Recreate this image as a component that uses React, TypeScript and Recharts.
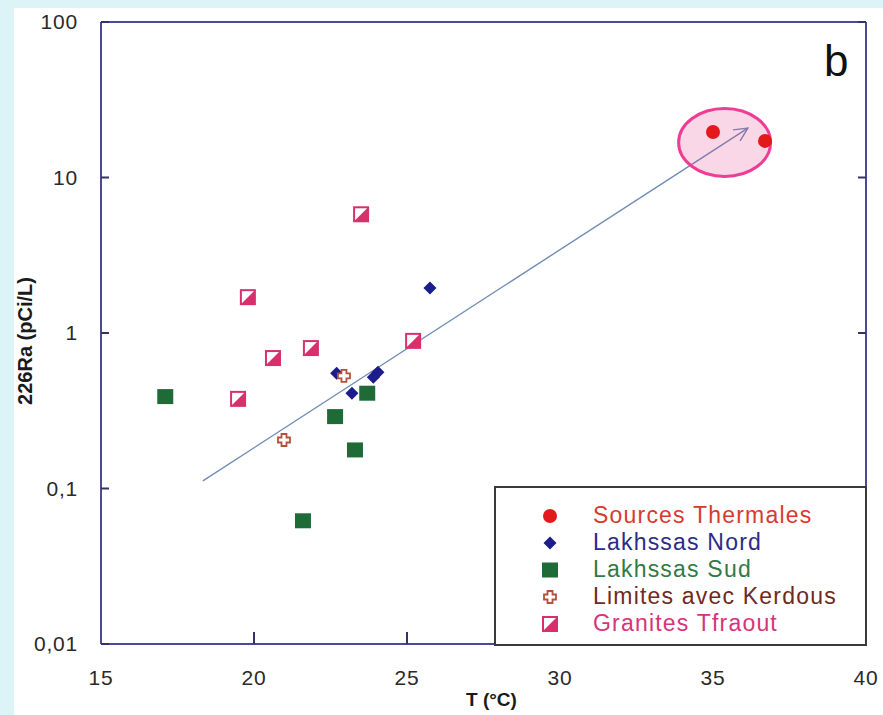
import React from "react";
import {
  ScatterChart, Scatter, XAxis, YAxis, ReferenceLine, ReferenceDot,
} from "recharts";

// T (°C) vs 226Ra (pCi/L), log scale
const X_TICKS = [15, 20, 25, 30, 35, 40];
const Y_TICKS = [0.01, 0.1, 1, 10, 100];

const thermales = [
  { t: 35.0, ra: 19.6 },
  { t: 36.7, ra: 17.2 },
];
const nord = [
  { t: 25.75, ra: 1.95 },
  { t: 22.7, ra: 0.55 },
  { t: 23.9, ra: 0.52 },
  { t: 24.05, ra: 0.56 },
  { t: 23.2, ra: 0.41 },
];
const sud = [
  { t: 17.1, ra: 0.39 },
  { t: 22.65, ra: 0.29 },
  { t: 23.7, ra: 0.41 },
  { t: 23.3, ra: 0.177 },
  { t: 21.6, ra: 0.062 },
];
const kerdous = [
  { t: 22.94, ra: 0.53 },
  { t: 20.98, ra: 0.205 },
];
const granites = [
  { t: 23.5, ra: 5.8 },
  { t: 19.8, ra: 1.7 },
  { t: 20.62, ra: 0.69 },
  { t: 21.86, ra: 0.8 },
  { t: 19.48, ra: 0.377 },
  { t: 25.2, ra: 0.89 },
];
const trend = [
  { t: 18.33, ra: 0.112 },
  { t: 36.14, ra: 20.8 },
];
const highlight = { t: 35.38, ra: 16.8 };

const AXIS = "#4a4a96";
const FONT = "'Liberation Sans', Arial, sans-serif";

const COLORS = {
  thermales: "#e3191c",
  nord: "#1c1c8a",
  sud: "#1e6b38",
  kerdous: "#b4503c",
  granites: "#d9306c",
};

const Circle = ({ cx, cy }: any) => <circle cx={cx} cy={cy} r={7} fill={COLORS.thermales} />;
const Diamond = ({ cx, cy }: any) => (
  <polygon points={`${cx},${cy - 6.5} ${cx + 6.5},${cy} ${cx},${cy + 6.5} ${cx - 6.5},${cy}`} fill={COLORS.nord} />
);
const Square = ({ cx, cy }: any) => (
  <rect x={cx - 8} y={cy - 7.5} width={16} height={15} fill={COLORS.sud} />
);
const Cross = ({ cx, cy }: any) => {
  const a = 2.5, b = 6;
  const pts = [
    [-a, -b], [a, -b], [a, -a], [b, -a], [b, a], [a, a], [a, b], [-a, b], [-a, a], [-b, a], [-b, -a], [-a, -a],
  ].map(([x, y]) => `${cx + x},${cy + y}`).join(" ");
  return <polygon points={pts} fill="#fff" stroke={COLORS.kerdous} strokeWidth={1.8} />;
};
const Granite = ({ cx, cy }: any) => (
  <g>
    <polygon points={`${cx + 7},${cy - 7} ${cx + 7},${cy + 7} ${cx - 7},${cy + 7}`} fill={COLORS.granites} />
    <rect x={cx - 7} y={cy - 7} width={14} height={14} fill="none" stroke={COLORS.granites} strokeWidth={2} />
  </g>
);

const Arrow = (p: any) => {
  const { x1, y1, x2, y2 } = p;
  const ang = Math.atan2(y2 - y1, x2 - x1);
  const L = 15, s = 0.45;
  const ax = x2 - L * Math.cos(ang - s), ay = y2 - L * Math.sin(ang - s);
  const bx = x2 - L * Math.cos(ang + s), by = y2 - L * Math.sin(ang + s);
  return (
    <g stroke="#6f8db4" strokeWidth={1.4} fill="none">
      <line x1={x1} y1={y1} x2={x2} y2={y2} />
      <polyline points={`${ax},${ay} ${x2},${y2} ${bx},${by}`} />
    </g>
  );
};

// translucent so the arrow stays visible beneath it
const Ellipse = ({ cx, cy }: any) => (
  <ellipse cx={cx} cy={cy} rx={46} ry={34} fill="rgba(224,40,129,0.19)" stroke="#ee3d94" strokeWidth={3} />
);

const LEGEND = [
  { name: "Sources Thermales", color: "#d83a2e", Icon: Circle },
  { name: "Lakhssas Nord", color: "#2b2b88", Icon: Diamond },
  { name: "Lakhssas Sud", color: "#2f7a46", Icon: Square },
  { name: "Limites avec Kerdous", color: "#6e2a22", Icon: Cross },
  { name: "Granites Tfraout", color: "#d6337a", Icon: Granite },
];

const fmt = (v: number) => String(v).replace(".", ",");

export default function App() {
  const tickStyle = { fill: "#2a2a2a", fontSize: 21, fontFamily: FONT, letterSpacing: 0.8 };
  return (
    <div style={{ position: "fixed", left: 0, top: 0, width: 883, height: 715, background: "#dcf3f8", overflow: "hidden" }}>
      <div style={{ position: "absolute", left: 14, top: 8, width: 869, height: 707, background: "#fff" }} />
      <div style={{ position: "absolute", left: 0, top: 0 }}>
        <ScatterChart width={883} height={715} margin={{ top: 21, right: 16, bottom: 11, left: 41 }}>
          <XAxis
            xAxisId="b" type="number" dataKey="t" domain={[15, 40]} ticks={X_TICKS} allowDataOverflow
            height={60} tickSize={-12} tickMargin={38}
            axisLine={{ stroke: AXIS, strokeWidth: 2 }} tickLine={{ stroke: "#333366", strokeWidth: 2 }}
            tick={tickStyle}
            label={{
              content: (p: any) => (
                <text x={p.viewBox.x + p.viewBox.width / 2 + 8} y={p.viewBox.y + 62} textAnchor="middle"
                  fontFamily={FONT} fontWeight="bold" fontSize={19} fill="#1a1a1a">T (°C)</text>
              ),
            }}
          />
          <XAxis
            xAxisId="t" orientation="top" type="number" domain={[15, 40]} ticks={X_TICKS} allowDataOverflow
            height={1} tickSize={-10} tickFormatter={() => ""}
            axisLine={{ stroke: AXIS, strokeWidth: 2 }} tickLine={{ stroke: "#333366", strokeWidth: 2 }}
          />
          <YAxis
            yAxisId="l" type="number" dataKey="ra" scale="log" domain={[0.01, 100]} ticks={Y_TICKS} allowDataOverflow
            width={60} tickSize={-8} tickMargin={31} tickFormatter={fmt}
            axisLine={{ stroke: AXIS, strokeWidth: 2 }} tickLine={{ stroke: "#333366", strokeWidth: 2 }}
            tick={tickStyle}
            label={{
              content: (p: any) => {
                const x = p.viewBox.x - 9;
                const y = p.viewBox.y + p.viewBox.height / 2 + 8;
                return (
                  <text x={x} y={y} transform={`rotate(-90 ${x} ${y})`} textAnchor="middle"
                    fontFamily={FONT} fontWeight="bold" fontSize={20} fill="#1a1a1a">226Ra (pCi/L)</text>
                );
              },
            }}
          />
          <YAxis
            yAxisId="r" orientation="right" type="number" scale="log" domain={[0.01, 100]} ticks={Y_TICKS} allowDataOverflow
            width={1} tickSize={-8} tickFormatter={() => ""}
            axisLine={{ stroke: AXIS, strokeWidth: 2 }} tickLine={{ stroke: "#333366", strokeWidth: 2 }}
          />
          <ReferenceDot xAxisId="b" yAxisId="l" x={highlight.t} y={highlight.ra} shape={Ellipse} />
          <ReferenceLine
            xAxisId="b" yAxisId="l"
            segment={[{ x: trend[0].t, y: trend[0].ra }, { x: trend[1].t, y: trend[1].ra }]}
            shape={Arrow}
          />
          <Scatter xAxisId="b" yAxisId="l" data={granites} shape={Granite} isAnimationActive={false} />
          <Scatter xAxisId="b" yAxisId="l" data={sud} shape={Square} isAnimationActive={false} />
          <Scatter xAxisId="b" yAxisId="l" data={nord} shape={Diamond} isAnimationActive={false} />
          <Scatter xAxisId="b" yAxisId="l" data={kerdous} shape={Cross} isAnimationActive={false} />
          <Scatter xAxisId="b" yAxisId="l" data={thermales} shape={Circle} isAnimationActive={false} />
        </ScatterChart>
      </div>
      <div style={{ position: "absolute", left: 824, top: 36, fontFamily: FONT, fontSize: 44, color: "#111" }}>b</div>
      <div style={{
        position: "absolute", left: 494, top: 486, width: 369, height: 142, background: "#fff",
        border: "2px solid #3a3a3a", paddingTop: 14, boxSizing: "content-box",
      }}>
        {LEGEND.map(({ name, color, Icon }) => (
          <div key={name} style={{ display: "flex", alignItems: "center", height: 27 }}>
            <svg width={20} height={20} style={{ marginLeft: 44 }}>
              <Icon cx={10} cy={10} />
            </svg>
            <span style={{ marginLeft: 33, fontFamily: FONT, fontSize: 23, letterSpacing: 1.2, color, whiteSpace: "nowrap" }}>{name}</span>
          </div>
        ))}
      </div>
    </div>
  );
}
